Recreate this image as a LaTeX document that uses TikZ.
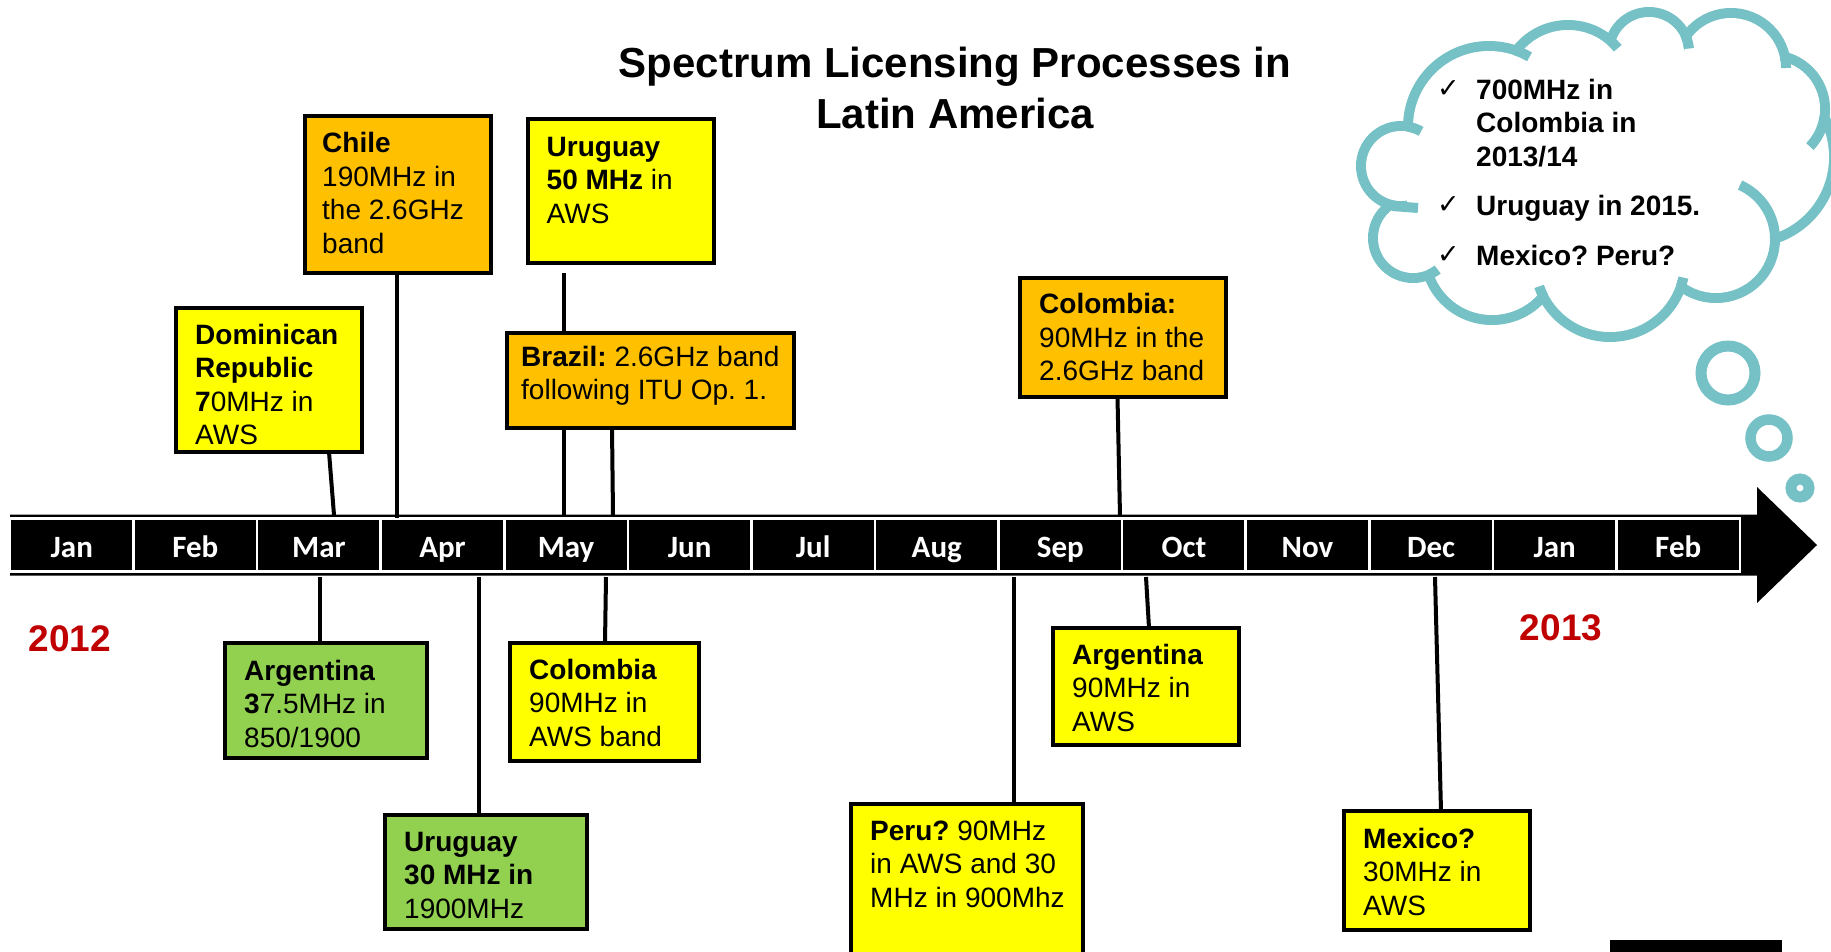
\documentclass[tikz,border=0pt]{standalone}
\usepackage{fontspec}
\setmainfont{Liberation Sans}
\newfontfamily\monthfont{Carlito}
\newfontfamily\symfont{DejaVu Sans}
\definecolor{boxyellow}{HTML}{FFFF00}
\definecolor{boxorange}{HTML}{FFC000}
\definecolor{boxgreen}{HTML}{92D050}
\definecolor{cloudteal}{RGB}{117,193,197}
\definecolor{yearred}{HTML}{C00000}
\frenchspacing
\begin{document}
\frenchspacing
\begin{tikzpicture}[x=1pt,y=-1pt,
  box/.style={draw=black, line width=4pt, inner sep=0pt, outer sep=0pt, anchor=north west},
  boxtext/.style={anchor=north west, inner sep=0pt, align=left, font=\fontsize{28}{33.5}\selectfont},
  cloudtext/.style={anchor=north west, inner sep=0pt, align=left, font=\bfseries\fontsize{28}{33.5}\selectfont},
  checkmk/.style={anchor=base west, inner sep=0pt, font=\symfont\fontsize{27}{27}\selectfont},
  conn/.style={draw=black, line width=4pt},
  cell/.style={draw=white, fill=black, line width=2.5pt, minimum width=123.57pt, minimum height=53pt, inner sep=0pt, text=white, font=\monthfont\bfseries\fontsize{31}{31}\selectfont, text height=24pt, text depth=0pt},
  year/.style={anchor=base, inner sep=0pt, text=yearred, font=\bfseries\fontsize{37}{37}\selectfont},
  cloudline/.style={draw=cloudteal, line width=10pt},
  bubble/.style={draw=cloudteal}
]
\path[use as bounding box] (0,0) rectangle (1831,951);
\clip (0,0) rectangle (1831,951);
\fill[white] (0,0) rectangle (1831,951);

% title
\node[anchor=north, inner sep=0pt, align=center, font=\bfseries\fontsize{42}{51}\selectfont] (title) at (955,45.5)
  {\rule{0pt}{31.5pt}Spectrum Licensing Processes in\\Latin America};

% timeline arrow
\fill[black] (10,514.5) -- (1757,514.5) -- (1757,487) -- (1817,545) -- (1757,603) -- (1757,575.5) -- (10,575.5) -- cycle;
\foreach \m [count=\i from 0] in {Jan,Feb,Mar,Apr,May,Jun,Jul,Aug,Sep,Oct,Nov,Dec,Jan,Feb}
  \node[cell] (m\i) at ({10+123.57*(\i+0.5)},545) {\m};

% timeline anchor points
\coordinate (tA) at (334,515);
\coordinate (tB) at (397,518);
\coordinate (tC) at (564,515);
\coordinate (tD) at (613,515);
\coordinate (tE) at (1120,516);
\coordinate (tF) at (320,577);
\coordinate (tG) at (479,577);
\coordinate (tH) at (606,577);
\coordinate (tI) at (1013.5,577);
\coordinate (tJ) at (1146,577);
\coordinate (tK) at (1435,577);

% boxes (empty shapes first to get names)
\path (176,308) node[box, minimum width=186pt, minimum height=144pt] (dom) {};
\path (304.5,116.4) node[box, minimum width=186.5pt, minimum height=157pt] (chile) {};
\path (527.5,118.8) node[box, minimum width=186.5pt, minimum height=144pt] (uru50) {};
\path (506.5,332.5) node[box, minimum width=287.5pt, minimum height=95pt] (brazil) {};
\path (1020,277.6) node[box, minimum width=206.4pt, minimum height=119.8pt] (col26) {};
\path (225,643) node[box, minimum width=201.5pt, minimum height=115pt] (arg37) {};
\path (385,814.7) node[box, minimum width=201.5pt, minimum height=114pt] (uru30) {};
\path (510,643) node[box, minimum width=188.6pt, minimum height=117.5pt] (colaws) {};
\path (851,804) node[box, minimum width=232pt, minimum height=200pt] (peru) {};
\path (1053,628) node[box, minimum width=186pt, minimum height=117.3pt] (arg90) {};
\path (1343.7,811) node[box, minimum width=186.3pt, minimum height=119pt] (mexico) {};

% connectors
\draw[conn] ([xshift=153pt]dom.south west) -- (tA);
\draw[conn] ([xshift=92.5pt]chile.south west) -- (tB);
\draw[conn] ([xshift=36.5pt,yshift=-10pt]uru50.south west) -- (tC);
\draw[conn] ([xshift=105.5pt]brazil.south west) -- (tD);
\draw[conn] ([xshift=97.5pt]col26.south west) -- (tE);
\draw[conn] (tF) -- ([xshift=95pt]arg37.north west);
\draw[conn] (tG) -- ([xshift=94pt]uru30.north west);
\draw[conn] (tH) -- ([xshift=95pt]colaws.north west);
\draw[conn] (tI) -- ([xshift=162.5pt]peru.north west);
\draw[conn] (tJ) -- ([xshift=96pt]arg90.north west);
\draw[conn] (tK) -- ([xshift=97.3pt]mexico.north west);

% boxes drawn over connectors
\path (176,308) node[box, fill=boxyellow, minimum width=186pt, minimum height=144pt] {};
\path (304.5,116.4) node[box, fill=boxorange, minimum width=186.5pt, minimum height=157pt] {};
\path (527.5,118.8) node[box, fill=boxyellow, minimum width=186.5pt, minimum height=144pt] {};
\path (506.5,332.5) node[box, fill=boxorange, minimum width=287.5pt, minimum height=95pt] {};
\path (1020,277.6) node[box, fill=boxorange, minimum width=206.4pt, minimum height=119.8pt] {};
\path (225,643) node[box, fill=boxgreen, minimum width=201.5pt, minimum height=115pt] {};
\path (385,814.7) node[box, fill=boxgreen, minimum width=201.5pt, minimum height=114pt] {};
\path (510,643) node[box, fill=boxyellow, minimum width=188.6pt, minimum height=117.5pt] {};
\path (851,804) node[box, fill=boxyellow, minimum width=232pt, minimum height=200pt] {};
\path (1053,628) node[box, fill=boxyellow, minimum width=186pt, minimum height=117.3pt] {};
\path (1343.7,811) node[box, fill=boxyellow, minimum width=186.3pt, minimum height=119pt] {};

% box texts
\node[boxtext] (domT) at (195,322.5) {\rule{0pt}{21.5pt}\textbf{Dominican}\\\textbf{Republic}\\\textbf{7}0MHz in\\AWS};
\node[boxtext] (chileT) at (322,131) {\rule{0pt}{21.5pt}\textbf{Chile}\\190MHz in\\the 2.6GHz\\band};
\node[boxtext] (uru50T) at (546.5,134.5) {\rule{0pt}{21.5pt}\textbf{Uruguay}\\\textbf{50 MHz} in\\AWS};
\node[boxtext] (brazilT) at (521,344.5) {\rule{0pt}{21.5pt}\textbf{Brazil:} 2.6GHz band\\following ITU Op. 1.};
\node[boxtext] (col26T) at (1039,292) {\rule{0pt}{21.5pt}\textbf{Colombia:}\\90MHz in the\\2.6GHz band};
\node[boxtext] (arg37T) at (244,658.5) {\rule{0pt}{21.5pt}\textbf{Argentina}\\\textbf{3}7.5MHz in\\850/1900};
\node[boxtext] (uru30T) at (404,829.5) {\rule{0pt}{21.5pt}\textbf{Uruguay}\\\textbf{30 MHz in}\\1900MHz};
\node[boxtext] (colawsT) at (529,657.5) {\rule{0pt}{21.5pt}\textbf{Colombia}\\90MHz in\\AWS band};
\node[boxtext] (peruT) at (870,818.5) {\rule{0pt}{21.5pt}\textbf{Peru?} 90MHz\\in AWS and 30\\MHz in 900Mhz};
\node[boxtext] (arg90T) at (1072,642.5) {\rule{0pt}{21.5pt}\textbf{Argentina}\\90MHz in\\AWS};
\node[boxtext] (mexicoT) at (1363,826.5) {\rule{0pt}{21.5pt}\textbf{Mexico?}\\30MHz in\\AWS};

% years
\node[year] (y2012) at (70,651) {2012};
\node[year] (y2013) at (1561,640) {2013};

% cloud
\foreach \cx/\cy/\r in {1401/166/40, 1489/127/81, 1568/90/65, 1649/52/40, 1731/68/55, 1771/109/54, 1748/157/86, 1716/239/59, 1610/262/75, 1492/253/67, 1413/238/40}
  \fill[cloudteal] (\cx,\cy) circle[radius=\r+5];
\fill[white] (1401,166) -- (1489,127) -- (1568,90) -- (1649,52) -- (1731,68) -- (1771,109) -- (1748,157) -- (1716,239) -- (1610,262) -- (1492,253) -- (1413,238) -- cycle;
\foreach \cx/\cy/\r in {1401/166/40, 1489/127/81, 1568/90/65, 1649/52/40, 1731/68/55, 1771/109/54, 1748/157/86, 1716/239/59, 1610/262/75, 1492/253/67, 1413/238/40}
  \fill[white] (\cx,\cy) circle[radius=\r-5];
% inner stubs of the cloud
\draw[cloudline] (1392,206) -- (1418,208);
\draw[cloudline] plot[domain=280:300, samples=10] ({1401+40*cos(\x)},{166+40*sin(\x)});
\draw[cloudline] plot[domain=289:300, samples=10] ({1489+81*cos(\x)},{127+81*sin(\x)});
\draw[cloudline] plot[domain=311:320, samples=10] ({1568+65*cos(\x)},{90+65*sin(\x)});
\draw[cloudline] plot[domain=337:355, samples=10] ({1649+40*cos(\x)},{52+40*sin(\x)});
\draw[cloudline] plot[domain=348:360, samples=10] ({1731+55*cos(\x)},{68+55*sin(\x)});
\draw[cloudline] plot[domain=9:44, samples=20] ({1771+54*cos(\x)},{109+54*sin(\x)});
\draw[cloudline] plot[domain=-66:0, samples=30] ({1716+59*cos(\x)},{239+59*sin(\x)});
\draw[cloudline] plot[domain=12:19, samples=10] ({1610+75*cos(\x)},{262+75*sin(\x)});
\draw[cloudline] plot[domain=153:161, samples=10] ({1610+75*cos(\x)},{262+75*sin(\x)});
\draw[cloudline] plot[domain=52:67, samples=10] ({1413+40*cos(\x)},{238+40*sin(\x)});

% thought bubbles
\draw[bubble, line width=11pt] (1728,373) circle[radius=27];
\draw[bubble, line width=10.5pt] (1769,438) circle[radius=18.5];
\draw[bubble, line width=11pt] (1800,488) circle[radius=9];

% cloud text
\node[checkmk] (ck1) at (1437,97) {✓};
\node[checkmk] (ck2) at (1437,213.5) {✓};
\node[checkmk] (ck3) at (1437,263) {✓};
\node[cloudtext] (c1) at (1476,77.5) {\rule{0pt}{21.5pt}700MHz in\\Colombia in\\2013/14};
\node[cloudtext, anchor=base west] (c2) at (1476,215.5) {Uruguay in 2015.};
\node[cloudtext, anchor=base west] (c3) at (1476,265) {Mexico? Peru?};

% black bar bottom right
\fill[black] (1610,940) rectangle (1782,960);
\end{tikzpicture}
\end{document}
